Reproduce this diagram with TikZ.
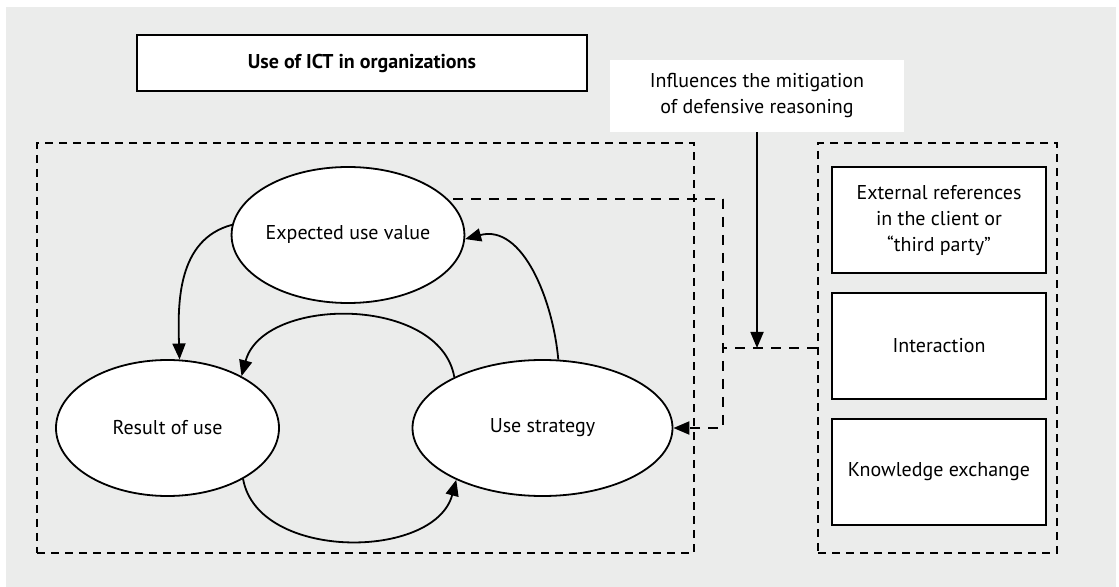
\documentclass[tikz,border=0pt]{standalone}
\usepackage{fontspec}
\setmainfont{PT Sans}
\usetikzlibrary{arrows.meta,shapes.geometric}
\definecolor{panelgray}{HTML}{EBECEB}
\tikzset{
  every node/.style={font=\fontsize{10}{13}\selectfont, align=center},
  state/.style={ellipse, draw, line width=0.9pt, fill=white, minimum width=111pt, minimum height=68pt, inner sep=0pt},
  item/.style={draw, line width=1.3pt, fill=white, minimum width=107pt, minimum height=53pt, inner sep=0pt},
  group/.style={draw, line width=1.1pt, dash pattern=on 4pt off 3pt, minimum height=205pt, inner sep=0pt},
  loop/.style={line width=0.9pt, -{Triangle[length=8pt,width=6.5pt]}},
  link/.style={line width=1.1pt, dash pattern=on 5pt off 4pt},
}
\begin{document}
\begin{tikzpicture}[x=0.5pt, y=-0.5pt]
  \useasboundingbox (0,0) rectangle (1119,587);
  \fill[panelgray] (6,7) rectangle (1116,587);

  % frames
  \node[group, minimum width=328.5pt] (core) at (365.5,348) {};
  \node[group, minimum width=119.5pt] (ext) at (937.5,348) {};

  \node[draw, line width=1.3pt, fill=white, minimum width=225pt, minimum height=28pt, font=\fontsize{10}{13}\selectfont\bfseries] (title) at (362,63) {Use of ICT in organizations};
  \node[fill=white, minimum width=147pt, minimum height=36pt] (infl) at (757,96) {Influences the mitigation\\of defensive reasoning};

  % cycle
  \node[state] (exp) at (348,235) {Expected use value};
  \node[state, minimum width=111.5pt] (res) at (167.5,428) {Result of use};
  \node[state, minimum width=130pt] (str) at (542.5,428) {Use strategy};

  % external factors
  \node[item] (refs) at (939,220) {External references\\in the client or\\``third party''};
  \node[item] (inter) at (939,346) {Interaction};
  \node[item] (know) at (939,472) {Knowledge exchange};

  \draw[loop] (exp.175) to[out=195, in=92] (res.80);
  \draw[loop] (str.77) to[out=95, in=15] (exp.-2);
  \draw[loop] (str.150) to[out=100, in=75] (res.35);
  \draw[loop] (res.-34) to[out=-80, in=-105] (str.211);

  \coordinate (start) at (453,199);
  \coordinate (bend) at (723,199);
  \draw[link] (start) -- (bend);
  \draw[link, -{Triangle[length=8pt,width=6.5pt]}] (bend) |- (str.east);
  \draw[link] (ext.west) -- (bend |- ext.west);
  \draw[loop] (infl.south) -- (infl.south |- ext.west);
\end{tikzpicture}
\end{document}
